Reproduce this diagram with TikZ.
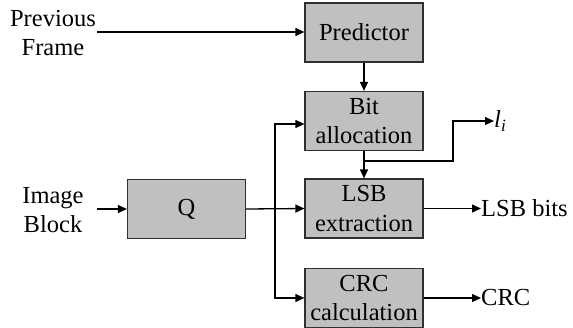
\documentclass[tikz,border=0pt]{standalone}
\usepackage{fontspec}
\setmainfont{Liberation Serif}
\usetikzlibrary{arrows.meta}
\definecolor{boxfill}{HTML}{C0C0C0}
\definecolor{boxline}{HTML}{303030}
\begin{document}
\begin{tikzpicture}[x=1pt,y=-1pt,
  font=\fontsize{24.5}{29.5}\selectfont,
  blk/.style={draw=boxline,fill=boxfill,line width=1.2pt,minimum width=118pt,minimum height=59pt,inner sep=0pt,align=center},
  lbl/.style={inner sep=0pt,align=center},
  conn/.style={line width=1.3pt,-{Triangle[length=9pt,width=8pt]}},
  wire/.style={line width=1.3pt}]
\clip (0,0) rectangle (573,327);
\useasboundingbox (0,0) rectangle (573,327);
\node[blk] (pred) at (364,32.5) {Predictor};
\node[blk] (bit) at (364,121) {Bit\\allocation};
\node[blk] (lsb) at (364,208.5) {LSB\\extraction};
\node[blk] (crc) at (364,298) {CRC\\calculation};
\node[blk] (q) at (186.5,209) {Q};
\node[lbl] (prev) at (53,33) {Previous\\Frame};
\node[lbl] (img) at (53,210) {Image\\Block};
\node[lbl,anchor=west] (li) at (494,121) {\itshape l\textsubscript{i}};
\node[lbl,anchor=west] (lsbout) at (481,208.5) {LSB bits};
\node[lbl,anchor=west] (crcout) at (481,298) {CRC};
\coordinate (prevend) at (97,32);
\coordinate (imgend) at (97,209);
\coordinate (sp) at (275,209);
\coordinate (br) at (364,161);
\coordinate (brup) at (453,121);
\draw[conn] (prevend) -- (pred.west |- prevend);
\draw[conn] (pred.south) -- (bit.north);
\draw[conn] (bit.south) -- (lsb.north);
\draw[conn] (br) -| (brup) -- (li.west);
\draw[conn] (imgend) -- (q.west);
\draw[conn] (q.east) -- (lsb.west);
\draw[conn] (sp) |- ([yshift=-3pt]bit.west);
\draw[conn] (sp) |- (crc.west);
\draw[conn] (lsb.east) -- (lsbout.west);
\draw[conn] (crc.east) -- (crcout.west);
\end{tikzpicture}
\end{document}
